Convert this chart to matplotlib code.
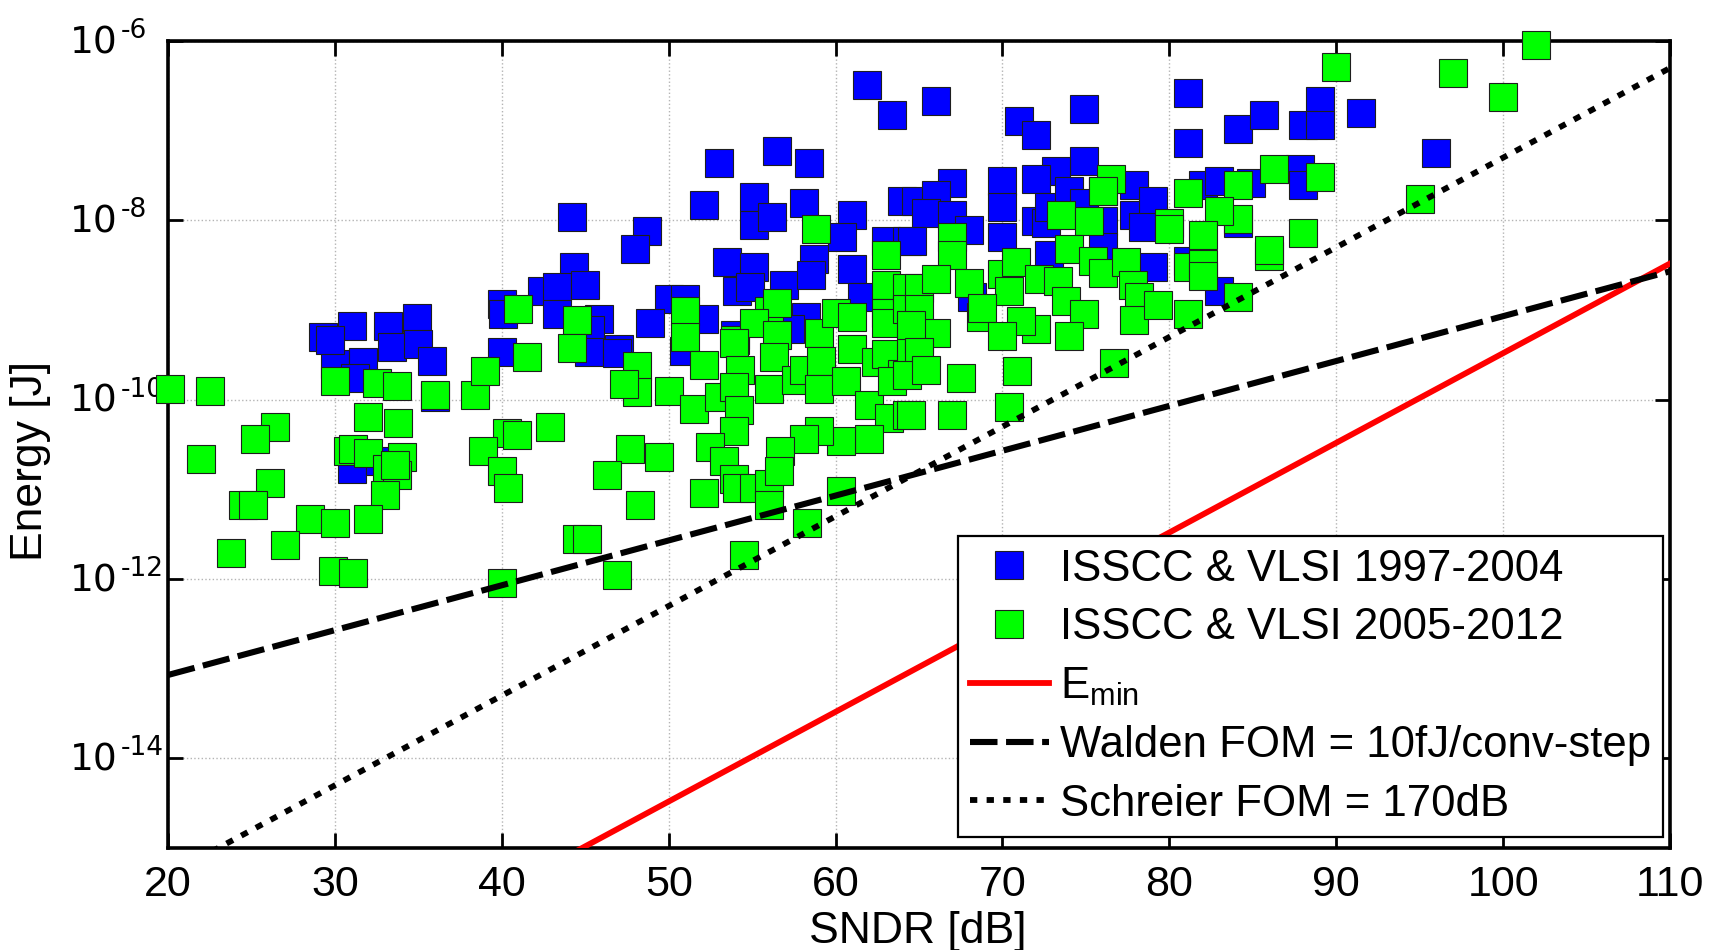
import matplotlib
matplotlib.use("Agg")
import matplotlib.pyplot as plt
import numpy as np
from matplotlib import transforms
from matplotlib.ticker import NullLocator

plt.rcParams["font.family"] = ["Liberation Sans", "DejaVu Sans"]
plt.rcParams["mathtext.fontset"] = "custom"
plt.rcParams["mathtext.rm"] = "Liberation Sans"
plt.rcParams["mathtext.it"] = "Liberation Sans:italic"
plt.rcParams["mathtext.default"] = "regular"

# ADC survey points: SNDR [dB] and log10 of energy per conversion [J]
blue_sndr = [
    29.3, 31.0, 33.2, 34.9, 33.4, 35.0, 40.0, 40.1, 42.4, 40.0, 30.0, 31.7, 35.8,
    31.2, 36.0, 31.0, 32.7, 29.7,
    61.9, 63.4, 53.0, 56.5, 58.4, 44.2, 52.1, 55.1, 55.1, 56.2, 58.1, 61.0, 60.4,
    64.0, 48.7, 48.0, 44.3, 43.3, 45.0, 43.3, 45.8, 45.3, 47.0, 53.5, 55.1, 54.1,
    54.9, 56.9, 58.7, 58.5, 61.0, 63.0, 64.3, 61.6, 50.0, 51.0, 48.9, 52.1, 54.0,
    58.2, 57.3, 45.2, 46.9, 50.9,
    66.0, 71.0, 72.0, 74.9, 81.1, 81.1, 84.1, 85.7, 89.0, 88.0, 89.0, 91.5, 96.0,
    74.9, 73.2, 67.0, 64.8, 66.0, 65.4, 67.0, 64.6, 68.0, 70.0, 70.0, 72.0, 72.0,
    72.6, 72.8, 74.0, 74.9, 76.0, 76.0, 77.9, 77.9, 79.0, 78.4, 70.0, 72.8, 76.0,
    79.0, 68.2, 81.1, 82.0, 83.0, 84.9, 84.1, 83.0, 87.8, 88.0,
]
blue_log_energy = [
    -9.30, -9.18, -9.18, -9.09, -9.41, -9.38, -8.93, -9.05, -8.79, -9.47, -9.60,
    -9.58, -9.57, -9.76, -9.97, -10.77, -10.68, -9.33,
    -6.49, -6.82, -7.36, -7.23, -7.36, -7.96, -7.83, -7.74, -8.05, -7.96, -7.81,
    -7.94, -8.19, -7.78, -8.12, -8.32, -8.52, -8.74, -8.72, -9.04, -9.10, -9.22,
    -9.44, -8.47, -8.52, -8.79, -8.74, -8.72, -8.43, -8.61, -8.54, -8.23, -8.23,
    -8.85, -8.88, -8.88, -9.14, -9.10, -9.28, -9.08, -9.21, -9.47, -9.48, -9.46,
    -6.67, -6.89, -7.05, -6.76, -6.58, -7.14, -6.98, -6.82, -6.67, -6.94, -6.94,
    -6.80, -7.25, -7.34, -7.45, -7.58, -7.78, -7.72, -7.92, -7.94, -8.23, -8.11,
    -7.56, -7.85, -7.54, -8.01, -8.03, -7.85, -7.67, -7.81, -7.67, -8.01, -7.61,
    -7.94, -7.78, -8.07, -8.19, -8.39, -8.30, -8.52, -8.85, -8.45, -7.61, -7.56,
    -7.58, -8.03, -8.79, -7.43, -7.61,
]

green_sndr = [
    41.0, 41.5, 20.1, 22.5, 30.0, 32.5, 33.7, 36.0, 38.4, 39.0, 32.0, 33.8, 26.4,
    25.2, 22.0, 30.8, 31.1, 32.0, 33.1, 34.0, 33.7, 33.6, 33.0, 40.3, 40.9, 42.9,
    38.9, 40.0, 40.4, 26.1, 24.5, 25.1, 28.5, 30.0, 32.0, 27.0, 23.8, 29.9, 31.1,
    40.0,
    58.8, 44.5, 44.2, 51.0, 51.0, 54.0, 56.0, 56.5, 55.1, 56.5, 59.0, 60.0, 61.0,
    63.0, 63.0, 63.0, 63.0, 64.3, 64.3,
    48.1, 48.1, 47.3, 50.0, 52.1, 51.5, 53.0, 53.9, 54.3, 53.9, 54.2, 53.9, 52.5,
    53.3, 53.9, 54.1, 55.1, 56.0, 56.0, 52.1, 54.5, 56.3, 56.0, 57.6, 58.1, 59.1,
    59.0, 60.6, 61.0, 62.0, 62.4, 63.0, 64.0, 63.4, 63.2, 64.3, 64.5, 62.0, 60.3,
    59.0, 58.1, 56.7, 56.6, 60.3, 58.3, 47.7, 49.4, 46.3, 48.3, 44.5, 45.1, 46.9,
    76.5, 76.0, 73.5, 75.2, 80.0, 80.0, 81.1, 84.1, 84.1, 83.0, 86.3, 88.0, 67.0,
    67.0, 65.0, 66.0, 65.0, 68.0, 70.0, 70.8, 70.4, 72.2, 73.3, 74.0, 75.4, 76.0,
    77.4, 77.8, 78.2, 77.9, 79.3, 73.8, 74.9, 72.0, 71.1, 68.7, 68.8, 70.0, 74.0,
    65.0, 66.0, 64.5, 81.1, 82.0, 82.0, 82.0, 84.1, 81.1, 86.0, 86.0,
    65.0, 64.3, 65.4, 67.5, 64.5, 67.0, 70.9, 70.4, 76.7,
    90.0, 97.0, 100.0, 102.0, 89.0, 95.0,
]
green_log_energy = [
    -8.99, -9.52, -9.88, -9.90, -9.79, -9.81, -9.85, -9.95, -9.95, -9.68, -10.19,
    -10.26, -10.30, -10.44, -10.66, -10.57, -10.55, -10.59, -10.77, -10.64, -10.84,
    -10.73, -11.06, -10.37, -10.39, -10.30, -10.57, -10.79, -10.99, -10.93, -11.17,
    -11.17, -11.33, -11.37, -11.33, -11.62, -11.71, -11.91, -11.93, -12.04,
    -8.10, -9.11, -9.42, -9.01, -9.30, -9.34, -9.01, -8.92, -9.15, -9.28, -9.26,
    -9.03, -9.08, -8.39, -8.72, -9.03, -9.15, -8.76, -8.99,
    -9.63, -9.92, -9.82, -9.90, -9.61, -10.10, -9.97, -9.37, -9.67, -9.86, -10.12,
    -10.35, -10.53, -10.68, -10.88, -10.99, -10.99, -10.94, -11.17, -11.04, -11.73,
    -9.52, -9.88, -9.78, -9.67, -9.57, -9.88, -9.79, -9.43, -10.06, -9.58, -9.49,
    -9.71, -9.79, -10.21, -10.17, -9.47, -10.44, -10.46, -10.35, -10.44, -10.57,
    -10.79, -11.02, -11.37, -10.55, -10.64, -10.84, -11.17, -11.55, -11.55, -11.95,
    -7.54, -7.67, -7.94, -8.01, -8.03, -8.10, -7.69, -7.61, -7.98, -7.90, -7.43,
    -8.14, -8.19, -8.39, -8.76, -8.65, -8.99, -8.70, -8.60, -8.47, -8.79, -8.65,
    -8.68, -8.32, -8.45, -8.59, -8.47, -8.72, -8.85, -9.11, -8.94, -8.90, -9.05,
    -9.21, -9.12, -9.08, -8.98, -9.29, -9.29, -9.32, -9.26, -9.17, -8.52, -8.16,
    -8.49, -8.62, -8.85, -9.04, -8.40, -8.33,
    -9.47, -9.72, -9.67, -9.76, -10.17, -10.17, -9.68, -10.08, -9.59,
    -6.29, -6.36, -6.62, -6.04, -7.52, -7.76,
]

# reference bounds, straight lines on the log axis
bound_sndr = [20, 110]
emin_energy = [3.3e-18, 3.3e-9]
walden_energy = [8.5e-14, 2.7e-9]
schreier_energy = [5.0e-16, 5.0e-7]

x_ticks = [20, 30, 40, 50, 60, 70, 80, 90, 100, 110]
y_exponents = [-6, -8, -10, -12, -14]

W, H = 1723, 950
fig = plt.figure(figsize=(W / 100, H / 100), dpi=100)
ax = fig.add_axes([168 / W, 1 - 848 / H, (1670 - 168) / W, (848 - 41) / H])

sq = dict(marker="s", ms=20, ls="none", mec="#1e1e1e", mew=0.8, clip_on=False)
ax.plot(blue_sndr, 10.0 ** np.array(blue_log_energy), mfc="#0000ff",
        label="ISSCC & VLSI 1997-2004", zorder=3, **sq)
ax.plot(green_sndr, 10.0 ** np.array(green_log_energy), mfc="#00ff00",
        label="ISSCC & VLSI 2005-2012", zorder=4, **sq)

ax.plot(bound_sndr, emin_energy, color="#ff0000", lw=4.2, zorder=5,
        label=r"$\mathregular{E_{min}}$")
ax.plot(bound_sndr, walden_energy, color="black", lw=4.4, zorder=5,
        ls=(0, (4.5, 1.4)), label="Walden FOM = 10fJ/conv-step")
ax.plot(bound_sndr, schreier_energy, color="black", lw=4.2, zorder=5,
        ls=(0, (1.25, 1.6)), label="Schreier FOM = 170dB")

ax.set_yscale("log")
ax.set_xlim(20, 110)
ax.set_ylim(1e-15, 1e-6)
ax.set_xticks(x_ticks)
ax.set_yticks([10.0 ** e for e in y_exponents])
ax.yaxis.set_minor_locator(NullLocator())
ax.tick_params(direction="in", top=True, right=True, length=11, width=2,
               labelsize=31, pad=12)
ax.tick_params(axis="y", labelleft=False)
ax.grid(True, which="major", color="#b4b4b4", ls=":", lw=1.0)
ax.set_axisbelow(True)
for sp in ax.spines.values():
    sp.set_linewidth(2.6)

# y tick labels as base "10" with a raised exponent
ytrans = transforms.blended_transform_factory(fig.transFigure, ax.transData)
for e in y_exponents:
    base_off = transforms.ScaledTranslation(0, -12 / 100, fig.dpi_scale_trans)
    exp_off = transforms.ScaledTranslation(0, 3 / 100, fig.dpi_scale_trans)
    ax.text(70 / W, 10.0 ** e, "10", transform=ytrans + base_off,
            ha="left", va="baseline", fontsize=27, family="DejaVu Sans")
    ax.text(121 / W, 10.0 ** e, f"-{abs(e)}", transform=ytrans + exp_off,
            ha="left", va="baseline", fontsize=19, family="DejaVu Sans")

fig.text(31 / W, 1 - 461 / H, "Energy [J]", rotation=90, ha="center",
         va="center", fontsize=32)
fig.text(918 / W, 1 - 931 / H, "SNDR [dB]", ha="center", va="center",
         fontsize=32)

leg = ax.legend(loc="lower right", bbox_to_anchor=((1663 - 168) / 1502, 11 / 807),
                borderaxespad=0, fontsize=31.5, handlelength=1.8,
                handletextpad=0.25, labelspacing=0.40, borderpad=0.28,
                fancybox=False, framealpha=1, edgecolor="black")
leg.get_frame().set_linewidth(1.6)
leg.set_zorder(10)

fig.savefig("out.png", dpi=100)
